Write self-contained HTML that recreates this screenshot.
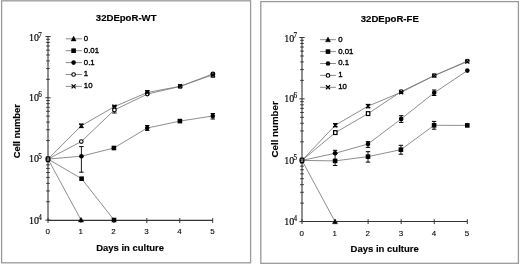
<!DOCTYPE html>
<html><head><meta charset="utf-8"><style>
html,body{margin:0;padding:0;background:#fff;width:520px;height:265px;overflow:hidden}
svg{display:block;filter:blur(0.3px)}
text{font-family:"Liberation Sans",sans-serif;fill:#000}
.t{font-weight:bold;font-size:9.6px;stroke:#000;stroke-width:0.15px}
.at{font-weight:bold;font-size:9.5px;stroke:#000;stroke-width:0.15px}
.lg{font-size:7.8px;stroke:#000;stroke-width:0.35px}
.xl{font-size:8px;stroke:#000;stroke-width:0.1px}
.e{font-family:"Liberation Serif",serif;font-size:9.4px;stroke:#000;stroke-width:0.15px}
.e.s{font-size:7.2px}
</style></head><body>
<svg width="520" height="265" viewBox="0 0 520 265">
<rect width="520" height="265" fill="#fff"/>
<rect x="1.6" y="0.8" width="249" height="262" fill="none" stroke="#9a9a9a" stroke-width="1.3"/>
<text x="95.8" y="21.3" class="t" textLength="60.7" lengthAdjust="spacingAndGlyphs">32DEpoR-WT</text>
<line x1="48" y1="36.55" x2="48" y2="220.4" stroke="#333333" stroke-width="1.1"/>
<line x1="48" y1="220.4" x2="212.7" y2="220.4" stroke="#333333" stroke-width="1.1"/>
<line x1="46.2" y1="79.33" x2="49.8" y2="79.33" stroke="#333333" stroke-width="1"/>
<line x1="46.2" y1="68.55" x2="49.8" y2="68.55" stroke="#333333" stroke-width="1"/>
<line x1="46.2" y1="60.9" x2="49.8" y2="60.9" stroke="#333333" stroke-width="1"/>
<line x1="46.2" y1="54.97" x2="49.8" y2="54.97" stroke="#333333" stroke-width="1"/>
<line x1="46.2" y1="50.13" x2="49.8" y2="50.13" stroke="#333333" stroke-width="1"/>
<line x1="46.2" y1="46.03" x2="49.8" y2="46.03" stroke="#333333" stroke-width="1"/>
<line x1="46.2" y1="42.48" x2="49.8" y2="42.48" stroke="#333333" stroke-width="1"/>
<line x1="46.2" y1="39.35" x2="49.8" y2="39.35" stroke="#333333" stroke-width="1"/>
<line x1="46.2" y1="140.53" x2="49.8" y2="140.53" stroke="#333333" stroke-width="1"/>
<line x1="46.2" y1="129.75" x2="49.8" y2="129.75" stroke="#333333" stroke-width="1"/>
<line x1="46.2" y1="122.1" x2="49.8" y2="122.1" stroke="#333333" stroke-width="1"/>
<line x1="46.2" y1="116.17" x2="49.8" y2="116.17" stroke="#333333" stroke-width="1"/>
<line x1="46.2" y1="111.33" x2="49.8" y2="111.33" stroke="#333333" stroke-width="1"/>
<line x1="46.2" y1="107.23" x2="49.8" y2="107.23" stroke="#333333" stroke-width="1"/>
<line x1="46.2" y1="103.68" x2="49.8" y2="103.68" stroke="#333333" stroke-width="1"/>
<line x1="46.2" y1="100.55" x2="49.8" y2="100.55" stroke="#333333" stroke-width="1"/>
<line x1="46.2" y1="201.73" x2="49.8" y2="201.73" stroke="#333333" stroke-width="1"/>
<line x1="46.2" y1="190.95" x2="49.8" y2="190.95" stroke="#333333" stroke-width="1"/>
<line x1="46.2" y1="183.3" x2="49.8" y2="183.3" stroke="#333333" stroke-width="1"/>
<line x1="46.2" y1="177.37" x2="49.8" y2="177.37" stroke="#333333" stroke-width="1"/>
<line x1="46.2" y1="172.53" x2="49.8" y2="172.53" stroke="#333333" stroke-width="1"/>
<line x1="46.2" y1="168.43" x2="49.8" y2="168.43" stroke="#333333" stroke-width="1"/>
<line x1="46.2" y1="164.88" x2="49.8" y2="164.88" stroke="#333333" stroke-width="1"/>
<line x1="46.2" y1="161.75" x2="49.8" y2="161.75" stroke="#333333" stroke-width="1"/>
<line x1="45.4" y1="36.55" x2="50.6" y2="36.55" stroke="#333333" stroke-width="1"/>
<line x1="45.4" y1="97.75" x2="50.6" y2="97.75" stroke="#333333" stroke-width="1"/>
<line x1="45.4" y1="158.95" x2="50.6" y2="158.95" stroke="#333333" stroke-width="1"/>
<line x1="45.4" y1="220.15" x2="50.6" y2="220.15" stroke="#333333" stroke-width="1"/>
<line x1="48" y1="218.1" x2="48" y2="222.9" stroke="#333333" stroke-width="1"/>
<line x1="80.94" y1="218.1" x2="80.94" y2="222.9" stroke="#333333" stroke-width="1"/>
<line x1="113.88" y1="218.1" x2="113.88" y2="222.9" stroke="#333333" stroke-width="1"/>
<line x1="146.82" y1="218.1" x2="146.82" y2="222.9" stroke="#333333" stroke-width="1"/>
<line x1="179.76" y1="218.1" x2="179.76" y2="222.9" stroke="#333333" stroke-width="1"/>
<line x1="212.7" y1="218.1" x2="212.7" y2="222.9" stroke="#333333" stroke-width="1"/>
<text transform="translate(29 41.1) scale(1.06 1)" class="e">10</text>
<text x="38.3" y="37.7" class="e s">7</text>
<text transform="translate(29 100.8) scale(1.06 1)" class="e">10</text>
<text x="38.3" y="97.4" class="e s">6</text>
<text transform="translate(29 162.3) scale(1.06 1)" class="e">10</text>
<text x="38.3" y="158.9" class="e s">5</text>
<text transform="translate(29 223.8) scale(1.06 1)" class="e">10</text>
<text x="38.3" y="220.4" class="e s">4</text>
<text transform="translate(47.7 234.4) scale(1 1)" class="xl" text-anchor="middle">0</text>
<text transform="translate(80.64 234.4) scale(1 1)" class="xl" text-anchor="middle">1</text>
<text transform="translate(113.58 234.4) scale(1 1)" class="xl" text-anchor="middle">2</text>
<text transform="translate(146.52 234.4) scale(1 1)" class="xl" text-anchor="middle">3</text>
<text transform="translate(179.46 234.4) scale(1 1)" class="xl" text-anchor="middle">4</text>
<text transform="translate(212.4 234.4) scale(1 1)" class="xl" text-anchor="middle">5</text>
<text x="96.3" y="251.1" class="at" textLength="67.7" lengthAdjust="spacingAndGlyphs">Days in culture</text>
<text transform="translate(20.3 158.3) rotate(-90)" class="at" textLength="54.3" lengthAdjust="spacingAndGlyphs">Cell number</text>
<line x1="65.7" y1="38.8" x2="81.9" y2="38.8" stroke="#7a7a7a" stroke-width="0.9"/>
<path d="M73.6 36.1L76.16 40.96L71.03 40.96Z" fill="#000" stroke="#000" stroke-width="0.4" stroke-linejoin="round"/>
<text transform="translate(83.8 40.7) scale(1 1)" class="lg">0</text>
<line x1="65.7" y1="50.7" x2="81.9" y2="50.7" stroke="#7a7a7a" stroke-width="0.9"/>
<rect x="71.3" y="48.4" width="4.6" height="4.6" fill="#000"/>
<text transform="translate(83.8 52.6) scale(1 1)" class="lg">0.01</text>
<line x1="65.7" y1="62.6" x2="81.9" y2="62.6" stroke="#7a7a7a" stroke-width="0.9"/>
<circle cx="73.6" cy="62.6" r="2.3" fill="#000"/>
<text transform="translate(83.8 64.5) scale(1 1)" class="lg">0.1</text>
<line x1="65.7" y1="74.5" x2="81.9" y2="74.5" stroke="#7a7a7a" stroke-width="0.9"/>
<circle cx="73.6" cy="74.5" r="1.8" fill="#fff" stroke="#000" stroke-width="1.1"/>
<text transform="translate(83.8 76.4) scale(1 1)" class="lg">1</text>
<line x1="65.7" y1="86.4" x2="81.9" y2="86.4" stroke="#7a7a7a" stroke-width="0.9"/>
<path d="M71.6 84.4L75.6 88.4M75.6 84.4L71.6 88.4" stroke="#000" stroke-width="1.3"/>
<text transform="translate(83.8 88.3) scale(1 1)" class="lg">10</text>
<polyline points="48,159.1 81,219.9" fill="none" stroke="#7a7a7a" stroke-width="0.85"/>
<polyline points="48,159.1 81.6,178.7 114,220" fill="none" stroke="#7a7a7a" stroke-width="0.85"/>
<polyline points="48,159.1 81.4,156.2 113.9,148 147.2,128 179.9,121.1 212.8,116" fill="none" stroke="#7a7a7a" stroke-width="0.85"/>
<polyline points="48,159.1 81.3,141.6 114.4,110 147.3,94.1 180.2,86.4 212.9,73.9" fill="none" stroke="#7a7a7a" stroke-width="0.85"/>
<polyline points="48,159.1 81.3,125.8 114.4,106.6 147.3,92.5 180.2,86.3 212.9,74.8" fill="none" stroke="#7a7a7a" stroke-width="0.85"/>
<path d="M81 217.2L83.56 222.06L78.44 222.06Z" fill="#000" stroke="#000" stroke-width="0.4" stroke-linejoin="round"/>
<rect x="79.3" y="176.4" width="4.6" height="4.6" fill="#000"/>
<rect x="111.7" y="217.7" width="4.6" height="4.6" fill="#000"/>
<line x1="81.4" y1="146.6" x2="81.4" y2="172.2" stroke="#000" stroke-width="0.9"/>
<line x1="79.2" y1="146.6" x2="83.6" y2="146.6" stroke="#000" stroke-width="1"/>
<line x1="79.2" y1="172.2" x2="83.6" y2="172.2" stroke="#000" stroke-width="1"/>
<circle cx="81.4" cy="156.2" r="2.3" fill="#000"/>
<rect x="111.6" y="145.7" width="4.6" height="4.6" fill="#000"/>
<line x1="147.2" y1="125.5" x2="147.2" y2="130.4" stroke="#000" stroke-width="0.9"/>
<line x1="145" y1="125.5" x2="149.4" y2="125.5" stroke="#000" stroke-width="1"/>
<line x1="145" y1="130.4" x2="149.4" y2="130.4" stroke="#000" stroke-width="1"/>
<circle cx="147.2" cy="128" r="2.3" fill="#000"/>
<rect x="177.6" y="118.8" width="4.6" height="4.6" fill="#000"/>
<line x1="212.8" y1="113.5" x2="212.8" y2="119" stroke="#000" stroke-width="0.9"/>
<line x1="210.6" y1="113.5" x2="215" y2="113.5" stroke="#000" stroke-width="1"/>
<line x1="210.6" y1="119" x2="215" y2="119" stroke="#000" stroke-width="1"/>
<circle cx="212.8" cy="116" r="2.3" fill="#000"/>
<circle cx="81.3" cy="141.6" r="1.8" fill="#fff" stroke="#000" stroke-width="1.1"/>
<line x1="114.4" y1="110" x2="114.4" y2="113" stroke="#000" stroke-width="0.9"/>
<line x1="112.2" y1="110" x2="116.6" y2="110" stroke="#000" stroke-width="1"/>
<line x1="112.2" y1="113" x2="116.6" y2="113" stroke="#000" stroke-width="1"/>
<circle cx="114.4" cy="110" r="1.8" fill="#fff" stroke="#000" stroke-width="1.1"/>
<circle cx="147.3" cy="94.1" r="1.8" fill="#fff" stroke="#000" stroke-width="1.1"/>
<circle cx="180.2" cy="86.4" r="1.8" fill="#fff" stroke="#000" stroke-width="1.1"/>
<circle cx="212.9" cy="73.9" r="1.8" fill="#fff" stroke="#000" stroke-width="1.1"/>
<line x1="81.3" y1="124" x2="81.3" y2="127.6" stroke="#000" stroke-width="0.9"/>
<line x1="79.1" y1="124" x2="83.5" y2="124" stroke="#000" stroke-width="1"/>
<line x1="79.1" y1="127.6" x2="83.5" y2="127.6" stroke="#000" stroke-width="1"/>
<path d="M79.3 123.8L83.3 127.8M83.3 123.8L79.3 127.8" stroke="#000" stroke-width="1.3"/>
<line x1="114.4" y1="105.4" x2="114.4" y2="106.6" stroke="#000" stroke-width="0.9"/>
<line x1="112.2" y1="105.4" x2="116.6" y2="105.4" stroke="#000" stroke-width="1"/>
<line x1="112.2" y1="106.6" x2="116.6" y2="106.6" stroke="#000" stroke-width="1"/>
<path d="M112.4 104.6L116.4 108.6M116.4 104.6L112.4 108.6" stroke="#000" stroke-width="1.3"/>
<line x1="147.3" y1="90.6" x2="147.3" y2="92.5" stroke="#000" stroke-width="0.9"/>
<line x1="145.1" y1="90.6" x2="149.5" y2="90.6" stroke="#000" stroke-width="1"/>
<line x1="145.1" y1="92.5" x2="149.5" y2="92.5" stroke="#000" stroke-width="1"/>
<path d="M145.3 90.5L149.3 94.5M149.3 90.5L145.3 94.5" stroke="#000" stroke-width="1.3"/>
<path d="M178.2 84.3L182.2 88.3M182.2 84.3L178.2 88.3" stroke="#000" stroke-width="1.3"/>
<line x1="212.9" y1="74.8" x2="212.9" y2="77.2" stroke="#000" stroke-width="0.9"/>
<line x1="210.7" y1="74.8" x2="215.1" y2="74.8" stroke="#000" stroke-width="1"/>
<line x1="210.7" y1="77.2" x2="215.1" y2="77.2" stroke="#000" stroke-width="1"/>
<path d="M210.9 72.8L214.9 76.8M214.9 72.8L210.9 76.8" stroke="#000" stroke-width="1.3"/>
<rect x="46.2" y="156.9" width="3.6" height="4.4" rx="0.8" fill="none" stroke="#000" stroke-width="1.3"/>
<rect x="260.8" y="1.6" width="257.6" height="261.7" fill="none" stroke="#9a9a9a" stroke-width="1.3"/>
<text x="360.8" y="22.3" class="t" textLength="58" lengthAdjust="spacingAndGlyphs">32DEpoR-FE</text>
<line x1="302" y1="37.5" x2="302" y2="221.5" stroke="#333333" stroke-width="1.1"/>
<line x1="302" y1="221.5" x2="467.3" y2="221.5" stroke="#333333" stroke-width="1.1"/>
<line x1="300.2" y1="80.39" x2="303.8" y2="80.39" stroke="#333333" stroke-width="1"/>
<line x1="300.2" y1="69.58" x2="303.8" y2="69.58" stroke="#333333" stroke-width="1"/>
<line x1="300.2" y1="61.92" x2="303.8" y2="61.92" stroke="#333333" stroke-width="1"/>
<line x1="300.2" y1="55.97" x2="303.8" y2="55.97" stroke="#333333" stroke-width="1"/>
<line x1="300.2" y1="51.11" x2="303.8" y2="51.11" stroke="#333333" stroke-width="1"/>
<line x1="300.2" y1="47" x2="303.8" y2="47" stroke="#333333" stroke-width="1"/>
<line x1="300.2" y1="43.45" x2="303.8" y2="43.45" stroke="#333333" stroke-width="1"/>
<line x1="300.2" y1="40.31" x2="303.8" y2="40.31" stroke="#333333" stroke-width="1"/>
<line x1="300.2" y1="141.75" x2="303.8" y2="141.75" stroke="#333333" stroke-width="1"/>
<line x1="300.2" y1="130.94" x2="303.8" y2="130.94" stroke="#333333" stroke-width="1"/>
<line x1="300.2" y1="123.28" x2="303.8" y2="123.28" stroke="#333333" stroke-width="1"/>
<line x1="300.2" y1="117.33" x2="303.8" y2="117.33" stroke="#333333" stroke-width="1"/>
<line x1="300.2" y1="112.47" x2="303.8" y2="112.47" stroke="#333333" stroke-width="1"/>
<line x1="300.2" y1="108.36" x2="303.8" y2="108.36" stroke="#333333" stroke-width="1"/>
<line x1="300.2" y1="104.81" x2="303.8" y2="104.81" stroke="#333333" stroke-width="1"/>
<line x1="300.2" y1="101.67" x2="303.8" y2="101.67" stroke="#333333" stroke-width="1"/>
<line x1="300.2" y1="203.11" x2="303.8" y2="203.11" stroke="#333333" stroke-width="1"/>
<line x1="300.2" y1="192.3" x2="303.8" y2="192.3" stroke="#333333" stroke-width="1"/>
<line x1="300.2" y1="184.64" x2="303.8" y2="184.64" stroke="#333333" stroke-width="1"/>
<line x1="300.2" y1="178.69" x2="303.8" y2="178.69" stroke="#333333" stroke-width="1"/>
<line x1="300.2" y1="173.83" x2="303.8" y2="173.83" stroke="#333333" stroke-width="1"/>
<line x1="300.2" y1="169.72" x2="303.8" y2="169.72" stroke="#333333" stroke-width="1"/>
<line x1="300.2" y1="166.17" x2="303.8" y2="166.17" stroke="#333333" stroke-width="1"/>
<line x1="300.2" y1="163.03" x2="303.8" y2="163.03" stroke="#333333" stroke-width="1"/>
<line x1="299.4" y1="37.5" x2="304.6" y2="37.5" stroke="#333333" stroke-width="1"/>
<line x1="299.4" y1="98.86" x2="304.6" y2="98.86" stroke="#333333" stroke-width="1"/>
<line x1="299.4" y1="160.22" x2="304.6" y2="160.22" stroke="#333333" stroke-width="1"/>
<line x1="299.4" y1="221.58" x2="304.6" y2="221.58" stroke="#333333" stroke-width="1"/>
<line x1="302" y1="219.2" x2="302" y2="224" stroke="#333333" stroke-width="1"/>
<line x1="335.06" y1="219.2" x2="335.06" y2="224" stroke="#333333" stroke-width="1"/>
<line x1="368.12" y1="219.2" x2="368.12" y2="224" stroke="#333333" stroke-width="1"/>
<line x1="401.18" y1="219.2" x2="401.18" y2="224" stroke="#333333" stroke-width="1"/>
<line x1="434.24" y1="219.2" x2="434.24" y2="224" stroke="#333333" stroke-width="1"/>
<line x1="467.3" y1="219.2" x2="467.3" y2="224" stroke="#333333" stroke-width="1"/>
<text transform="translate(284.3 41.5) scale(1.06 1)" class="e">10</text>
<text x="293.6" y="38.1" class="e s">7</text>
<text transform="translate(284.3 101.5) scale(1.06 1)" class="e">10</text>
<text x="293.6" y="98.1" class="e s">6</text>
<text transform="translate(284.3 163.6) scale(1.06 1)" class="e">10</text>
<text x="293.6" y="160.2" class="e s">5</text>
<text transform="translate(284.3 224.8) scale(1.06 1)" class="e">10</text>
<text x="293.6" y="221.4" class="e s">4</text>
<text transform="translate(301.7 235.6) scale(1 1)" class="xl" text-anchor="middle">0</text>
<text transform="translate(334.76 235.6) scale(1 1)" class="xl" text-anchor="middle">1</text>
<text transform="translate(367.82 235.6) scale(1 1)" class="xl" text-anchor="middle">2</text>
<text transform="translate(400.88 235.6) scale(1 1)" class="xl" text-anchor="middle">3</text>
<text transform="translate(433.94 235.6) scale(1 1)" class="xl" text-anchor="middle">4</text>
<text transform="translate(467 235.6) scale(1 1)" class="xl" text-anchor="middle">5</text>
<text x="350.6" y="252.3" class="at" textLength="68.2" lengthAdjust="spacingAndGlyphs">Days in culture</text>
<text transform="translate(278.1 157.5) rotate(-90)" class="at" textLength="56.2" lengthAdjust="spacingAndGlyphs">Cell number</text>
<line x1="320.1" y1="39.7" x2="335.9" y2="39.7" stroke="#7a7a7a" stroke-width="0.9"/>
<path d="M328 37L330.56 41.86L325.44 41.86Z" fill="#000" stroke="#000" stroke-width="0.4" stroke-linejoin="round"/>
<text transform="translate(338.2 41.6) scale(1 1)" class="lg">0</text>
<line x1="320.1" y1="51.6" x2="335.9" y2="51.6" stroke="#7a7a7a" stroke-width="0.9"/>
<rect x="325.7" y="49.3" width="4.6" height="4.6" fill="#000"/>
<text transform="translate(338.2 53.5) scale(1 1)" class="lg">0.01</text>
<line x1="320.1" y1="63.5" x2="335.9" y2="63.5" stroke="#7a7a7a" stroke-width="0.9"/>
<circle cx="328" cy="63.5" r="2.3" fill="#000"/>
<text transform="translate(338.2 65.4) scale(1 1)" class="lg">0.1</text>
<line x1="320.1" y1="75.4" x2="335.9" y2="75.4" stroke="#7a7a7a" stroke-width="0.9"/>
<circle cx="328" cy="75.4" r="1.8" fill="#fff" stroke="#000" stroke-width="1.1"/>
<text transform="translate(338.2 77.3) scale(1 1)" class="lg">1</text>
<line x1="320.1" y1="87.3" x2="335.9" y2="87.3" stroke="#7a7a7a" stroke-width="0.9"/>
<path d="M326 85.3L330 89.3M330 85.3L326 89.3" stroke="#000" stroke-width="1.3"/>
<text transform="translate(338.2 89.2) scale(1 1)" class="lg">10</text>
<polyline points="302,160.4 335,221.6" fill="none" stroke="#7a7a7a" stroke-width="0.85"/>
<polyline points="302,160.4 335.1,160.9 368,156.6 400.9,149.7 434.1,125.3 467.3,125.4" fill="none" stroke="#7a7a7a" stroke-width="0.85"/>
<polyline points="302,160.4 335.1,153.3 368,144 401.2,118.9 434.2,92.8 467.3,70.6" fill="none" stroke="#7a7a7a" stroke-width="0.85"/>
<polyline points="302,160.4 335.3,132.6 368.1,113.6 401.2,91.6 434.3,75.5 467.3,61" fill="none" stroke="#7a7a7a" stroke-width="0.85"/>
<polyline points="302,160.4 335.3,125.2 368.1,106.1 401.2,92.3 434.3,75.6 467.3,61.6" fill="none" stroke="#7a7a7a" stroke-width="0.85"/>
<path d="M335 218.9L337.56 223.76L332.44 223.76Z" fill="#000" stroke="#000" stroke-width="0.4" stroke-linejoin="round"/>
<line x1="335.1" y1="153.3" x2="335.1" y2="165.5" stroke="#000" stroke-width="0.9"/>
<line x1="332.9" y1="153.3" x2="337.3" y2="153.3" stroke="#000" stroke-width="1"/>
<line x1="332.9" y1="165.5" x2="337.3" y2="165.5" stroke="#000" stroke-width="1"/>
<rect x="332.8" y="158.6" width="4.6" height="4.6" fill="#000"/>
<line x1="368" y1="151.7" x2="368" y2="162.1" stroke="#000" stroke-width="0.9"/>
<line x1="365.8" y1="151.7" x2="370.2" y2="151.7" stroke="#000" stroke-width="1"/>
<line x1="365.8" y1="162.1" x2="370.2" y2="162.1" stroke="#000" stroke-width="1"/>
<rect x="365.7" y="154.3" width="4.6" height="4.6" fill="#000"/>
<line x1="400.9" y1="145.3" x2="400.9" y2="154.2" stroke="#000" stroke-width="0.9"/>
<line x1="398.7" y1="145.3" x2="403.1" y2="145.3" stroke="#000" stroke-width="1"/>
<line x1="398.7" y1="154.2" x2="403.1" y2="154.2" stroke="#000" stroke-width="1"/>
<rect x="398.6" y="147.4" width="4.6" height="4.6" fill="#000"/>
<line x1="434.1" y1="121.4" x2="434.1" y2="129.2" stroke="#000" stroke-width="0.9"/>
<line x1="431.9" y1="121.4" x2="436.3" y2="121.4" stroke="#000" stroke-width="1"/>
<line x1="431.9" y1="129.2" x2="436.3" y2="129.2" stroke="#000" stroke-width="1"/>
<rect x="431.8" y="123" width="4.6" height="4.6" fill="#000"/>
<rect x="465" y="123.1" width="4.6" height="4.6" fill="#000"/>
<line x1="335.1" y1="150.3" x2="335.1" y2="153.3" stroke="#000" stroke-width="0.9"/>
<line x1="332.9" y1="150.3" x2="337.3" y2="150.3" stroke="#000" stroke-width="1"/>
<line x1="332.9" y1="153.3" x2="337.3" y2="153.3" stroke="#000" stroke-width="1"/>
<circle cx="335.1" cy="153.3" r="2.3" fill="#000"/>
<line x1="368" y1="141.6" x2="368" y2="147.4" stroke="#000" stroke-width="0.9"/>
<line x1="365.8" y1="141.6" x2="370.2" y2="141.6" stroke="#000" stroke-width="1"/>
<line x1="365.8" y1="147.4" x2="370.2" y2="147.4" stroke="#000" stroke-width="1"/>
<circle cx="368" cy="144" r="2.3" fill="#000"/>
<line x1="401.2" y1="115.7" x2="401.2" y2="122.4" stroke="#000" stroke-width="0.9"/>
<line x1="399" y1="115.7" x2="403.4" y2="115.7" stroke="#000" stroke-width="1"/>
<line x1="399" y1="122.4" x2="403.4" y2="122.4" stroke="#000" stroke-width="1"/>
<circle cx="401.2" cy="118.9" r="2.3" fill="#000"/>
<line x1="434.2" y1="90" x2="434.2" y2="95.5" stroke="#000" stroke-width="0.9"/>
<line x1="432" y1="90" x2="436.4" y2="90" stroke="#000" stroke-width="1"/>
<line x1="432" y1="95.5" x2="436.4" y2="95.5" stroke="#000" stroke-width="1"/>
<circle cx="434.2" cy="92.8" r="2.3" fill="#000"/>
<circle cx="467.3" cy="70.6" r="2.3" fill="#000"/>
<rect x="333.6" y="130.7" width="3.4" height="3.8" fill="#fff" stroke="#000" stroke-width="1.2"/>
<rect x="366.4" y="111.7" width="3.4" height="3.8" fill="#fff" stroke="#000" stroke-width="1.2"/>
<circle cx="401.2" cy="91.6" r="1.8" fill="#fff" stroke="#000" stroke-width="1.1"/>
<circle cx="434.3" cy="75.5" r="1.8" fill="#fff" stroke="#000" stroke-width="1.1"/>
<circle cx="467.3" cy="61" r="1.8" fill="#fff" stroke="#000" stroke-width="1.1"/>
<line x1="335.3" y1="123.6" x2="335.3" y2="126.8" stroke="#000" stroke-width="0.9"/>
<line x1="333.1" y1="123.6" x2="337.5" y2="123.6" stroke="#000" stroke-width="1"/>
<line x1="333.1" y1="126.8" x2="337.5" y2="126.8" stroke="#000" stroke-width="1"/>
<path d="M333.3 123.2L337.3 127.2M337.3 123.2L333.3 127.2" stroke="#000" stroke-width="1.3"/>
<line x1="368.1" y1="104.4" x2="368.1" y2="107.8" stroke="#000" stroke-width="0.9"/>
<line x1="365.9" y1="104.4" x2="370.3" y2="104.4" stroke="#000" stroke-width="1"/>
<line x1="365.9" y1="107.8" x2="370.3" y2="107.8" stroke="#000" stroke-width="1"/>
<path d="M366.1 104.1L370.1 108.1M370.1 104.1L366.1 108.1" stroke="#000" stroke-width="1.3"/>
<path d="M399.2 90.3L403.2 94.3M403.2 90.3L399.2 94.3" stroke="#000" stroke-width="1.3"/>
<path d="M432.3 73.6L436.3 77.6M436.3 73.6L432.3 77.6" stroke="#000" stroke-width="1.3"/>
<path d="M465.3 59.6L469.3 63.6M469.3 59.6L465.3 63.6" stroke="#000" stroke-width="1.3"/>
<rect x="300.2" y="158.2" width="3.6" height="4.4" rx="0.8" fill="none" stroke="#000" stroke-width="1.3"/>
</svg>
</body></html>
